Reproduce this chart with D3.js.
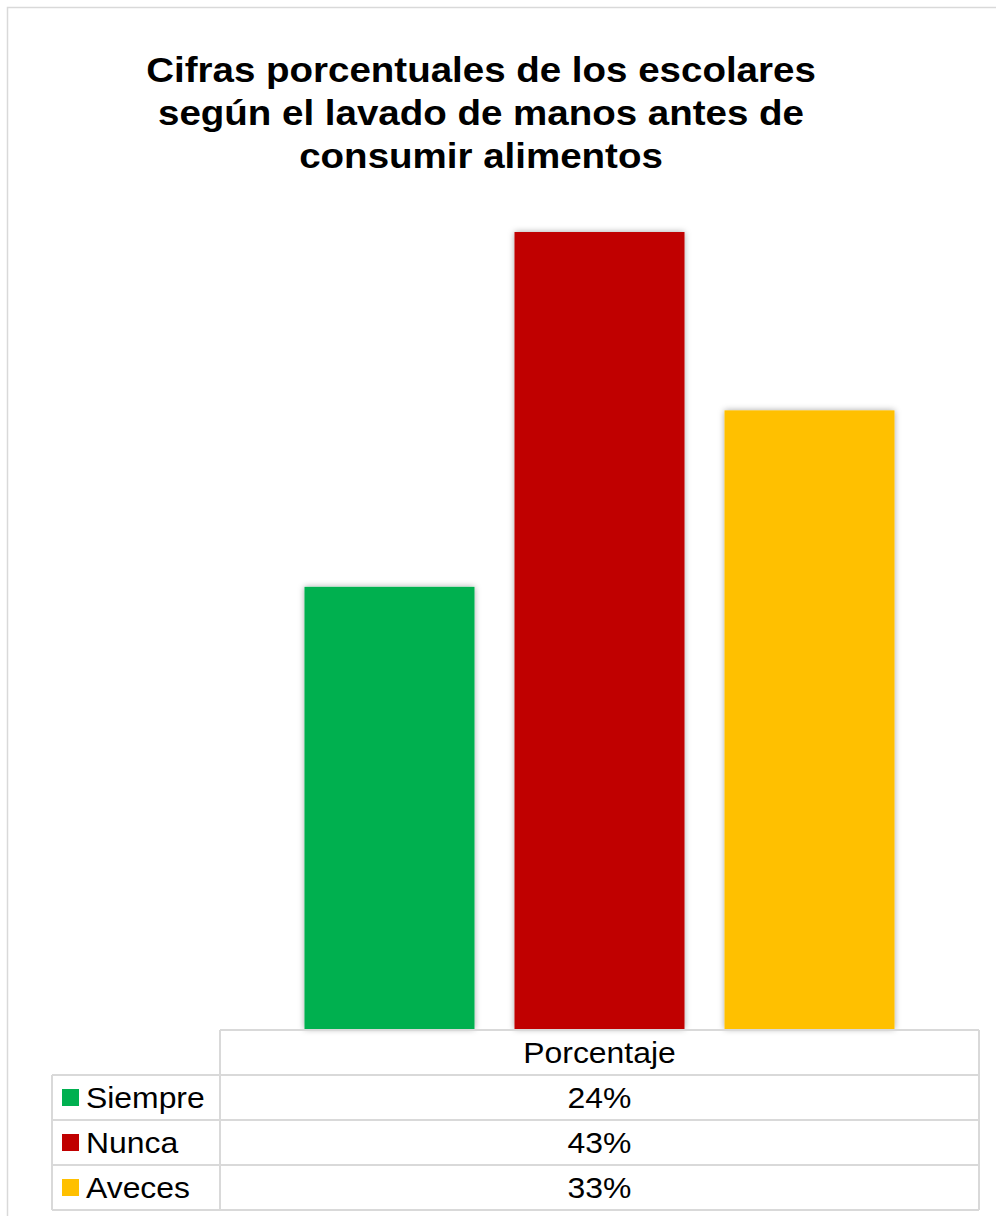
<!DOCTYPE html>
<html><head><meta charset="utf-8">
<script src="https://cdn.jsdelivr.net/npm/d3@7/dist/d3.min.js"></script>
<style>html,body{margin:0;padding:0;background:#fff;}svg{display:block;font-family:"Liberation Sans",Arial,sans-serif;}</style>
</head><body>
<script>
const titleLines = ["Cifras porcentuales de los escolares", "según el lavado de manos antes de", "consumir alimentos"];
const categories = ["Porcentaje"];
const series = ["Siempre", "Nunca", "Aveces"];
const values = [0.238, 0.429, 0.333];
const valueLabels = ["24%", "43%", "33%"];
const colors = ["#00B050", "#C00000", "#FFC000"];

const W = 996, H = 1216;
const SX = 1.1; // horizontal text stretch
const svg = d3.select("body").append("svg").attr("width", W).attr("height", H);

const defs = svg.append("defs");
const f = defs.append("filter").attr("id", "sh").attr("x", "-10%").attr("y", "-10%").attr("width", "120%").attr("height", "120%");
f.append("feDropShadow").attr("dx", 0).attr("dy", 0).attr("stdDeviation", 3).attr("flood-color", "#000").attr("flood-opacity", 0.35);

// chart border
svg.append("rect").attr("x", 7.5).attr("y", 7.5).attr("width", W + 20).attr("height", H + 20)
  .attr("fill", "#fff").attr("stroke", "#d9d9d9").attr("stroke-width", 1.5);

// title
svg.append("g").attr("transform", `translate(481,0) scale(${SX},1)`)
  .append("text").attr("text-anchor", "middle").attr("font-weight", "bold").attr("font-size", 35).attr("fill", "#000")
  .selectAll("tspan").data(titleLines).join("tspan")
  .attr("x", 0).attr("y", (d, i) => 82 + i * 43).text(d => d);

const plotL = 220, plotR = 979, plotTop = 193, plotBot = 1029;
const y = d3.scaleLinear().domain([0, 0.45]).range([plotBot, plotTop]);
const x0 = d3.scaleBand().domain(categories).range([plotL, plotR]).paddingInner(0).paddingOuter(0.1432);
const x1 = d3.scaleBand().domain(series).range([0, x0.bandwidth()]).paddingInner(0.1905).paddingOuter(0);

const g = svg.append("g");
g.selectAll("rect.bar").data(series).join("rect").attr("class", "bar")
  .attr("x", d => x0(categories[0]) + x1(d))
  .attr("width", x1.bandwidth())
  .attr("y", (d, i) => y(values[i]))
  .attr("height", (d, i) => y(0) - y(values[i]))
  .attr("fill", (d, i) => colors[i])
  .attr("filter", "url(#sh)");

// data table
const rowY = [1030, 1075, 1120, 1165, 1210];
const legL = 52;
const tg = svg.append("g").attr("stroke", "#d9d9d9").attr("stroke-width", 2).attr("fill", "none");
tg.append("line").attr("x1", plotL).attr("x2", plotR).attr("y1", rowY[0]).attr("y2", rowY[0]);
rowY.slice(1).forEach(yy => tg.append("line").attr("x1", legL).attr("x2", plotR).attr("y1", yy).attr("y2", yy));
tg.append("line").attr("x1", plotL).attr("x2", plotL).attr("y1", rowY[0]).attr("y2", rowY[4]);
tg.append("line").attr("x1", plotR).attr("x2", plotR).attr("y1", rowY[0]).attr("y2", rowY[4]);
tg.append("line").attr("x1", legL).attr("x2", legL).attr("y1", rowY[1]).attr("y2", rowY[4]);

const cx = (plotL + plotR) / 2;
const FS = 29;
svg.append("g").attr("transform", `translate(${cx},${rowY[0] + 33}) scale(${SX},1)`)
  .append("text").attr("text-anchor", "middle").attr("font-size", FS).attr("fill", "#000").text(categories[0]);

series.forEach((s, i) => {
  const top = rowY[i + 1];
  svg.append("rect").attr("x", 62).attr("y", top + 14).attr("width", 17).attr("height", 17).attr("fill", colors[i]);
  svg.append("g").attr("transform", `translate(86,${top + 33}) scale(${SX},1)`)
    .append("text").attr("font-size", FS).attr("fill", "#000").text(s);
  svg.append("g").attr("transform", `translate(${cx},${top + 33}) scale(${SX},1)`)
    .append("text").attr("text-anchor", "middle").attr("font-size", FS).attr("fill", "#000").text(valueLabels[i]);
});
</script>
</body></html>
